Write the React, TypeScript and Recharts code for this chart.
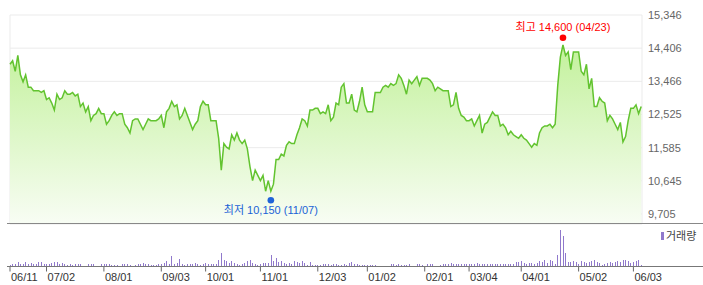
import { ComposedChart, Area, XAxis, YAxis, CartesianGrid, ReferenceDot, BarChart, Bar } from 'recharts';

// daily closes, one array per month (2018-06-11 .. 2019-06-07)
const junClose = [13950, 14050, 13750, 14200, 13650, 13450, 13650, 13300, 13300, 13200, 13200, 13200, 13150, 13200];
const julClose = [12950, 13000, 12850, 12650, 13100, 12950, 13000, 13200, 13100, 13100, 13150, 13050, 13100, 12750, 12850, 12600, 12750, 12350, 12500, 12550, 12700, 12550];
const augClose = [12550, 12250, 12350, 12500, 12600, 12500, 12550, 12550, 12250, 12150, 12000, 12350, 12400, 12400, 12250, 12100, 12250, 12400, 12350, 12350, 12350, 12400];
const sepClose = [12500, 12150, 12600, 12700, 12900, 12750, 12800, 12400, 12500, 12700, 12500, 12300, 12100, 12250, 12350, 12750, 12900];
const octClose = [12800, 12800, 12350, 12350, 12350, 11850, 10950, 11700, 11600, 11550, 11950, 11800, 12000, 11800, 11700, 11800, 11550, 11050, 10650, 10950, 10800];
const novClose = [10650, 10800, 10350, 10650, 10350, 10550, 11250, 11250, 11400, 11350, 11650, 11750, 11700, 11700, 11950, 12150, 12400, 12350, 12200, 12650, 12650, 12700];
const decClose = [12700, 12550, 12600, 12550, 12800, 12350, 12450, 12850, 12800, 13300, 13400, 12850, 12850, 13100, 12650, 12600, 12900, 13300, 12800];
const janClose = [12600, 12600, 12600, 13150, 13150, 13150, 13300, 13350, 13300, 13400, 13350, 13400, 13650, 13550, 13350, 13100, 13500, 13400, 13500, 13600, 13350, 13550];
const febClose = [13550, 13550, 13500, 13400, 13200, 13300, 13250, 13200, 13200, 13200, 12750, 12800, 13150, 12700, 12500, 12450, 12350];
const marClose = [12350, 12400, 12200, 12350, 12500, 12000, 12250, 12300, 12450, 12600, 12500, 12500, 12200, 12250, 12150, 11950, 12050, 11950, 11900, 11850];
const aprClose = [11950, 11850, 11800, 11700, 11600, 11700, 11650, 12000, 12150, 12200, 12200, 12250, 12150, 12250, 13350, 14150, 14500, 14200, 14300, 13800, 14300, 14300];
const mayClose = [14300, 13750, 13650, 13950, 13250, 13550, 12750, 12750, 13000, 12900, 12850, 12350, 12500, 12400, 12250, 12100, 12300, 11750, 11900, 12350, 12700];
const jun2Close = [12700, 12800, 12550, 12750];

// daily volume (relative units), same months
const junVol = [13, 20, 27, 40, 27, 20, 40, 27, 33, 27, 27, 40, 40, 27];
const julVol = [20, 27, 33, 40, 40, 27, 33, 20, 13, 20, 13, 27, 27, 27, 7, 7, 27, 27, 20, 7, 7, 20];
const augVol = [27, 27, 20, 13, 13, 13, 7, 20, 27, 27, 13, 7, 13, 27, 27, 33, 27, 20, 13, 13, 13, 20];
const sepVol = [20, 33, 50, 27, 100, 27, 33, 77, 20, 13, 20, 27, 20, 33, 27, 13, 27];
const octVol = [33, 27, 20, 20, 20, 67, 133, 60, 50, 33, 50, 33, 27, 17, 27, 33, 50, 60, 33, 27, 17];
const novVol = [27, 33, 33, 33, 110, 50, 87, 40, 50, 33, 27, 33, 27, 50, 40, 33, 50, 33, 17, 40, 17, 10];
const decVol = [17, 13, 20, 20, 20, 13, 27, 20, 13, 13, 27, 13, 33, 40, 20, 20, 17, 10, 10];
const janVol = [10, 17, 10, 17, 7, 7, 7, 7, 7, 20, 20, 17, 20, 17, 17, 17, 20, 7, 7, 20, 20, 17];
const febVol = [7, 20, 20, 20, 7, 7, 17, 20, 20, 27, 33, 20, 27, 27, 20, 20, 27];
const marVol = [27, 20, 27, 33, 27, 20, 27, 27, 20, 27, 27, 20, 27, 27, 27, 20, 27, 27, 40, 40];
const aprVol = [50, 33, 27, 33, 33, 27, 33, 50, 40, 67, 33, 67, 50, 27, 110, 360, 303, 130, 40, 40, 50, 40];
const mayVol = [27, 50, 40, 33, 40, 50, 67, 40, 33, 17, 27, 33, 40, 33, 40, 50, 40, 60, 60, 50, 33];
const jun2Vol = [40, 50, 60, 17];

// first trading day of each month (label shown at the start of each month array)
const tickLabels = ['06/11', '07/02', '08/01', '09/03', '10/01', '11/01', '12/03', '01/02', '02/01', '03/04', '04/01', '05/02', '06/03'];
const priceTicks = [9705, 10645, 11585, 12525, 13466, 14406, 15346];

const high = { index: 212, value: 14600, date: '04/23' };
const low = { index: 100, value: 10150, date: '11/07' };

const months = [junClose, julClose, augClose, sepClose, octClose, novClose, decClose, janClose, febClose, marClose, aprClose, mayClose, jun2Close];
const closes = months.flat();
const volumes = [junVol, julVol, augVol, sepVol, octVol, novVol, decVol, janVol, febVol, marVol, aprVol, mayVol, jun2Vol].flat();
const data = closes.map((close, i) => ({ i, close, volume: volumes[i] }));

const tickIndex: number[] = [];
months.reduce((start, m) => { tickIndex.push(start); return start + m.length; }, 0);
const labelOf = (v: number) => tickLabels[tickIndex.indexOf(v)] ?? '';

const FONT = '"Liberation Sans", "Noto Sans CJK KR", Arial, sans-serif';
const X_DOMAIN: [number, number] = [0, 242.3];
const VOL_COLOR = '#9079cc';

const fmt = (v: number) => v.toLocaleString('en-US');

function HighMark(props: any) {
  const { cx, cy } = props;
  return (
    <g>
      <circle cx={cx} cy={cy - 3.5} r={3.3} fill="#ff0000" />
      <text x={cx} y={cy - 14.5} textAnchor="middle" dominantBaseline="central" fontSize={11} fill="#ff0000">
        {`최고 ${fmt(high.value)} (${high.date})`}
      </text>
    </g>
  );
}

function LowMark(props: any) {
  const { cx, cy } = props;
  return (
    <g>
      <circle cx={cx} cy={cy + 2} r={3.3} fill="#1f63d8" />
      <text x={cx} y={cy + 12} textAnchor="middle" dominantBaseline="central" fontSize={11} fill="#1a62d6">
        {`최저 ${fmt(low.value)} (${low.date})`}
      </text>
    </g>
  );
}

function DateTick(props: any) {
  const { x, y, payload } = props;
  return (
    <text x={x + 1} y={y} dy="0.71em" textAnchor="start" fontSize={11} fill="#333">
      {labelOf(payload.value)}
    </text>
  );
}

// snap each 1px volume bar to the pixel grid so it stays crisp
function VolBar(props: any) {
  const { x, y, width, height } = props;
  if (!height || height <= 0) return null;
  return (
    <rect x={Math.round(x + width / 2 - 0.5)} y={y} width={1} height={height}
      fill={VOL_COLOR} shapeRendering="crispEdges" />
  );
}

export default function App() {
  return (
    <div style={{ position: 'absolute', left: 0, top: 0, width: 703, height: 285, background: '#fff', fontFamily: FONT }}>
      <div style={{ position: 'absolute', left: 0, top: 0 }}>
        <ComposedChart width={703} height={225} data={data} margin={{ top: 15, right: 0, bottom: 0, left: 10 }}>
          <defs>
            <linearGradient id="priceFill" x1="0" y1="0" x2="0" y2="1">
              <stop offset="0%" stopColor="#c3f19c" />
              <stop offset="100%" stopColor="#f8fdf4" />
            </linearGradient>
          </defs>
          <CartesianGrid stroke="#ebebeb" />
          <XAxis dataKey="i" type="number" domain={X_DOMAIN} ticks={tickIndex} interval={0}
            height={1} tick={false} axisLine={false} tickLine={false} />
          <YAxis orientation="right" domain={[9421, 15346]} ticks={priceTicks} interval={0} width={61}
            axisLine={false} tickLine={false} tickSize={0} tickMargin={6}
            tick={{ fontSize: 11, fill: '#666' }} tickFormatter={fmt} allowDataOverflow />
          <Area dataKey="close" type="linear" stroke="#62c32f" strokeWidth={1.5}
            fill="url(#priceFill)" fillOpacity={1} dot={false} activeDot={false} isAnimationActive={false} />
          <ReferenceDot x={high.index} y={high.value} shape={HighMark} />
          <ReferenceDot x={low.index} y={low.value} shape={LowMark} />
        </ComposedChart>
      </div>
      <div style={{ position: 'absolute', left: 0, top: 224 }}>
        <BarChart width={703} height={61} data={data} margin={{ top: 6, right: 61, bottom: 0, left: 10 }}>
          <XAxis dataKey="i" type="number" domain={X_DOMAIN} ticks={tickIndex} interval={0}
            height={18.5} axisLine={false} tickLine={{ stroke: '#666' }} tickSize={5} tick={DateTick} />
          <YAxis hide domain={[0, 360]} />
          <Bar dataKey="volume" fill={VOL_COLOR} barSize={1} shape={VolBar} isAnimationActive={false} />
        </BarChart>
      </div>
      <div style={{ position: 'absolute', left: 7, top: 223, width: 696, height: 1, background: '#888' }} />
      <div style={{ position: 'absolute', left: 7, top: 266, width: 696, height: 1, background: '#777' }} />
      <div style={{ position: 'absolute', left: 661, top: 232, width: 3, height: 8, background: VOL_COLOR }} />
      <div style={{ position: 'absolute', left: 666, top: 229, fontSize: 11, lineHeight: '14px', color: '#444' }}>거래량</div>
    </div>
  );
}
